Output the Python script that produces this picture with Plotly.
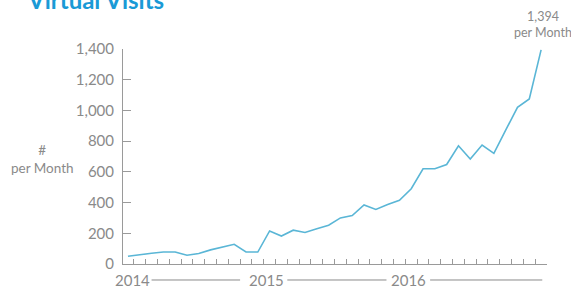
import plotly.graph_objects as go

# ---- data ----
month_index = list(range(36))  # Jan 2014 .. Dec 2016
visits = [50, 62, 70, 78, 78, 57, 68, 92, 110, 128, 78, 78,
          215, 182, 220, 205, 230, 252, 300, 315, 385, 355, 388, 415,
          490, 620, 620, 648, 770, 684, 775, 720, 872, 1020, 1075, 1394]
year_labels = ["2014", "2015", "2016"]
year_label_pos = [0.4, 11.7, 23.75]
year_line_spans = [(2.0, 9.5), (13.5, 21.9), (25.6, 35.1)]
y_ticks = [0, 200, 400, 600, 800, 1000, 1200, 1400]
y_tick_text = ["0", "200", "400", "600", "800", "1,000", "1,200", "1,400"]

GRAY = "#8a8a8a"
AXIS = "#9a9a9a"
BLUE = "#5ab6d6"
FONT = "Lato"

fig = go.Figure()
fig.add_trace(go.Scatter(x=month_index, y=visits, mode="lines",
                         line=dict(color=BLUE, width=1.6), hoverinfo="skip"))

fig.update_layout(
    width=571, height=288,
    margin=dict(l=123, r=24, t=49, b=24),
    paper_bgcolor="white", plot_bgcolor="white",
    showlegend=False,
    font=dict(family=FONT, color=GRAY, size=14),
    xaxis=dict(range=[-0.42, 35.5], showgrid=False, zeroline=False,
               showline=True, linecolor=AXIS, linewidth=1,
               ticks="inside", ticklen=5, tickcolor=AXIS,
               tickvals=[i + 0.5 for i in month_index], showticklabels=False),
    yaxis=dict(range=[0, 1400], showgrid=False, zeroline=False,
               showline=True, linecolor=AXIS, linewidth=1,
               ticks="inside", ticklen=8, tickcolor=AXIS,
               tickvals=y_ticks, ticktext=y_tick_text,
               tickfont=dict(family=FONT, size=15, color=GRAY),
               ticklabelstandoff=5),
)

# year labels and lines
for lab, pos in zip(year_labels, year_label_pos):
    fig.add_annotation(x=pos, y=-0.0744, xref="x", yref="paper", text=lab,
                       showarrow=False, xanchor="center", yanchor="middle",
                       font=dict(family=FONT, size=15, color=GRAY))
for x0, x1 in year_line_spans:
    fig.add_shape(type="line", xref="x", yref="paper", x0=x0, x1=x1,
                  y0=-0.0744, y1=-0.0744, line=dict(color=GRAY, width=1))

# y-axis title
fig.add_annotation(x=(42 - 123) / 424, y=(264 - 159) / 215, xref="paper", yref="paper",
                   text="#<br>per Month", showarrow=False,
                   xanchor="center", yanchor="middle",
                   font=dict(family=FONT, size=13.5, color=GRAY))

# end value label
fig.add_annotation(x=35.2, y=(264 - 24) / 215, xref="x", yref="paper",
                   text="1,394<br>per Month", showarrow=False,
                   xanchor="center", yanchor="middle",
                   font=dict(family=FONT, size=12.5, color=GRAY))

# title (cut off at top as in reference)
fig.add_annotation(x=(25 - 123) / 424, y=(264 + 0) / 215, xref="paper", yref="paper",
                   text="<b>Virtual Visits</b>", showarrow=False,
                   xanchor="left", yanchor="middle",
                   font=dict(family=FONT, size=24, color="#1a9ad6"))

fig.write_html("out.html", config={"displayModeBar": False},
               post_script="document.body.style.margin='0';")
